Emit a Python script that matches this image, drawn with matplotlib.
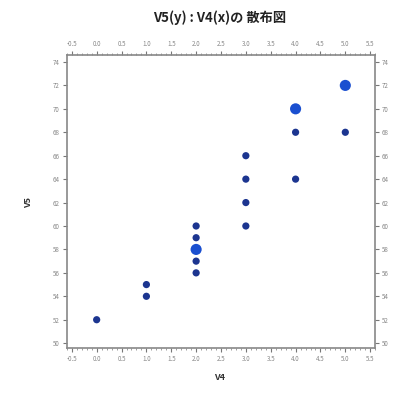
import matplotlib
matplotlib.use("Agg")
import matplotlib.pyplot as plt
from matplotlib.ticker import MultipleLocator, FormatStrFormatter

plt.rcParams['font.family'] = ['Noto Sans CJK JP', 'DejaVu Sans']

# Observations (V4, V5) and how many times each pair occurs
v4 = [0, 1, 1, 2, 2, 2, 2, 2, 3, 3, 3, 3, 4, 4, 4, 5, 5]
v5 = [52, 54, 55, 56, 57, 58, 59, 60, 60, 62, 64, 66, 64, 68, 70, 68, 72]
counts = [1, 1, 1, 1, 1, 2, 1, 1, 1, 1, 1, 1, 1, 1, 2, 1, 2]

title = "V5(y) : V4(x)の 散布図"
x_label = "V4"
y_label = "V5"

fig = plt.figure(figsize=(4.10, 4.04), dpi=100)
ax = fig.add_axes([0.163, 0.139, 0.752, 0.725])

sizes = [27 if c == 1 else 64 for c in counts]
colors = ['#1c3590' if c == 1 else '#1a4fd0' for c in counts]
ax.scatter(v4, v5, s=sizes, c=colors, linewidths=0, zorder=3)

ax.set_xlim(-0.6, 5.6)
ax.set_ylim(49.6, 74.6)
ax.xaxis.set_major_locator(MultipleLocator(0.5))
ax.xaxis.set_minor_locator(MultipleLocator(0.1))
ax.yaxis.set_major_locator(MultipleLocator(2))
ax.xaxis.set_major_formatter(FormatStrFormatter('%.1f'))
ax.yaxis.set_major_formatter(FormatStrFormatter('%d'))

ax.tick_params(axis='both', which='both', top=True, right=True,
               labeltop=True, labelright=True, direction='out',
               colors='#777777', labelcolor='#888888', labelsize=4.5, pad=2)
ax.tick_params(which='major', length=3, width=0.8)
ax.tick_params(which='minor', length=1.5, width=0.5)
for s in ax.spines.values():
    s.set_color('#888888')
    s.set_linewidth(1.2)

fig.text(0.535, 0.955, title, ha='center', va='center', fontsize=9.5,
         fontweight='bold', color='#222222')
fig.text(0.535, 0.065, x_label, ha='center', va='center', fontsize=6.5,
         fontweight='bold', color='#333333')
fig.text(0.07, 0.50, y_label, ha='center', va='center', fontsize=6.5,
         fontweight='bold', color='#333333', rotation=90)

fig.savefig("out.png", dpi=100)
